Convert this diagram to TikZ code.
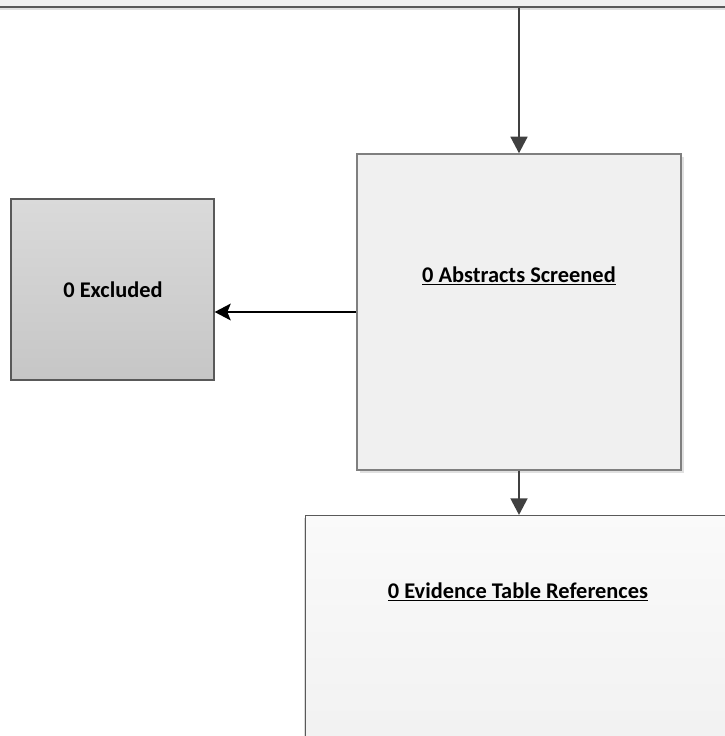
\documentclass[tikz,border=0pt]{standalone}
\usepackage{fontspec}
\setmainfont{Carlito}
\usetikzlibrary{arrows.meta,shadows}
\definecolor{boxfill}{HTML}{F0F0F0}
\definecolor{boxline}{HTML}{7F7F7F}
\definecolor{darkline}{HTML}{595959}
\definecolor{arrowgray}{HTML}{404040}
\definecolor{exctop}{HTML}{DADADA}
\definecolor{excbot}{HTML}{C6C6C6}
\tikzset{
  flowbox/.style={draw=boxline, line width=1pt, fill=boxfill, inner sep=0pt,
    drop shadow={shadow xshift=2.6pt, shadow yshift=-2.6pt, fill=black!12, opacity=1}},
  lbl/.style={font=\bfseries\fontsize{16.8}{20}\selectfont, text=black, inner sep=0pt},
  grayarrow/.style={draw=arrowgray, line width=2.1pt, -{Triangle[length=12.5pt, width=12.5pt]}},
  blackarrow/.style={draw=black, line width=1.6pt, -{Stealth[length=12pt, width=12.5pt, inset=2.5pt]}}
}
\begin{document}
\begin{tikzpicture}[x=0.75pt, y=-0.75pt]
\useasboundingbox (0,0) rectangle (725,736);
\begin{scope}
\clip (0,0) rectangle (725,736);
% top box (cut off)
\node[flowbox, draw=darkline, line width=1.3pt, minimum width=760*0.75pt, minimum height=60*0.75pt, anchor=south] (topbox) at (362.5,7.5) {};
% abstracts box
\node[flowbox, minimum width=324*0.75pt, minimum height=316*0.75pt] (abs) at (519,312) {};
% excluded box
\node[draw=darkline, line width=1pt, inner sep=0pt, top color=exctop, bottom color=excbot,
      minimum width=203*0.75pt, minimum height=181*0.75pt] (exc) at (112.5,289.5) {};
% evidence box (cut off)
\node[draw=darkline, line width=1pt, inner sep=0pt, top color=white!98!black, bottom color=boxfill,
      drop shadow={shadow xshift=-1.5pt, shadow yshift=-1.5pt, fill=black!15, opacity=1},
      minimum width=460*0.75pt, minimum height=260*0.75pt, anchor=north west] (evi) at (305,515) {};
\end{scope}
% labels
\node[lbl] (abstxt) at (519,276) {\underline{0 Abstracts Screened}};
\node[lbl] (exctxt) at (113,290) {0 Excluded};
\node[lbl] (evitxt) at (518,592) {\underline{0 Evidence Table References}};
% connectors
\draw[grayarrow] (topbox.south -| abs.north) -- (abs.north);
\draw[grayarrow] (abs.south) -- (abs.south |- evi.north);
\draw[blackarrow] (abs.west) -- (exc.east |- abs.west);
\end{tikzpicture}
\end{document}
